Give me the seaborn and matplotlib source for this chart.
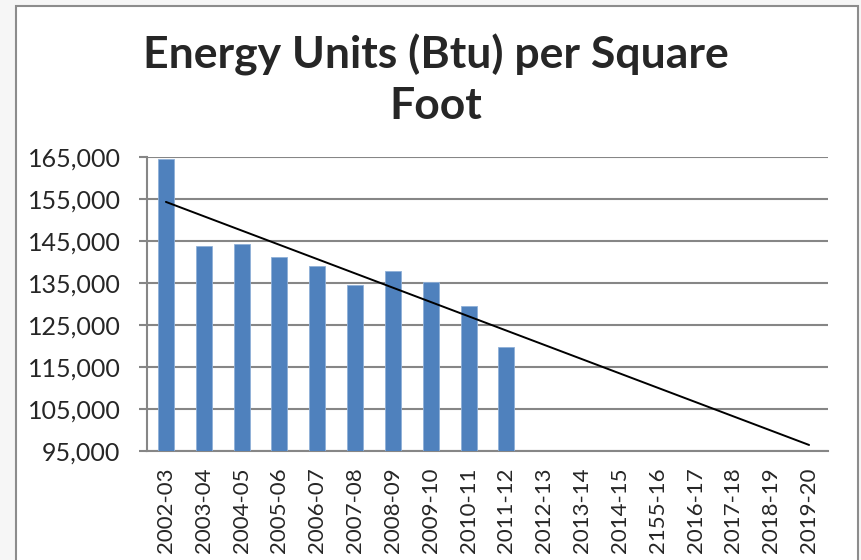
import matplotlib
matplotlib.use('Agg')
import matplotlib.pyplot as plt
import seaborn as sns
import pandas as pd
import numpy as np
from matplotlib.patches import Rectangle
from matplotlib.ticker import FuncFormatter

# categories on the x axis (the "2155-16" label is as in the original)
seasons = ['2002-03', '2003-04', '2004-05', '2005-06', '2006-07', '2007-08',
           '2008-09', '2009-10', '2010-11', '2011-12', '2012-13', '2013-14',
           '2014-15', '2155-16', '2016-17', '2017-18', '2018-19', '2019-20']
measured = ['2002-03', '2003-04', '2004-05', '2005-06', '2006-07', '2007-08',
            '2008-09', '2009-10', '2010-11', '2011-12']
btu_per_sqft = [164500, 143800, 144200, 141300, 139100, 134500,
                137900, 135300, 129500, 119800]
y_ticks = [95000, 105000, 115000, 125000, 135000, 145000, 155000, 165000]

df = pd.DataFrame({'season': measured, 'btu': btu_per_sqft})

sns.set_style('white')
plt.rcParams['font.family'] = ['Lato', 'DejaVu Sans']

fig = plt.figure(figsize=(8.62, 5.6), dpi=100)
fig.patch.set_facecolor('#f6f6f6')
# chart area frame, Excel style
fig.patches.append(Rectangle((16 / 862, -0.05), 842 / 862, 1.05 - 6 / 560,
                             transform=fig.transFigure, facecolor='white',
                             edgecolor='#8c8c8c', linewidth=1.5, zorder=-5))

ax = fig.add_axes([147 / 862, 1 - 451 / 560, 681 / 862, 294 / 560])
ax.set_facecolor('none')
ax.set_zorder(2)

sns.barplot(data=df, x='season', y='btu', order=seasons, color='#4f81bd',
            saturation=1, width=0.42, ax=ax, zorder=3,
            edgecolor='#8fb0d8', linewidth=0.6)

# linear trendline fitted to measured years, extended to the last category
xs = np.arange(len(measured))
slope, intercept = np.polyfit(xs, btu_per_sqft, 1)
x_all = np.array([0, len(seasons) - 1])
ax.plot(x_all, intercept + slope * x_all, color='black', linewidth=1.4, zorder=4)

ax.set_ylim(95000, 165000)
ax.set_xlim(-0.5, len(seasons) - 0.5)
ax.set_yticks(y_ticks)
ax.yaxis.set_major_formatter(FuncFormatter(lambda v, p: f'{int(v):,}'))
ax.grid(axis='y', color='#868686', linewidth=1.5, zorder=1)
ax.set_axisbelow(True)

for s in ['top', 'right']:
    ax.spines[s].set_visible(False)
for s in ['left', 'bottom']:
    ax.spines[s].set_color('#868686')
    ax.spines[s].set_linewidth(1.5)

ax.set_xticks(np.arange(len(seasons)))
ax.set_xticklabels(seasons, rotation=90, fontsize=16)
ax.set_xticks(np.arange(-0.5, len(seasons)), minor=True)
ax.tick_params(axis='x', which='major', length=0, pad=12)
ax.tick_params(axis='x', which='minor', length=5, width=1.5, color='#868686',
               direction='out')
ax.tick_params(axis='y', length=6, width=1.5, color='#868686', direction='out',
               labelsize=18, pad=13, left=True)
ax.set_xlabel('')
ax.set_ylabel('')

fig.text(436 / 862, 1 - 80 / 560, 'Energy Units (Btu) per Square\nFoot',
         ha='center', va='center', fontsize=32, fontweight='bold',
         linespacing=1.3)

fig.savefig('out.png', dpi=100)
